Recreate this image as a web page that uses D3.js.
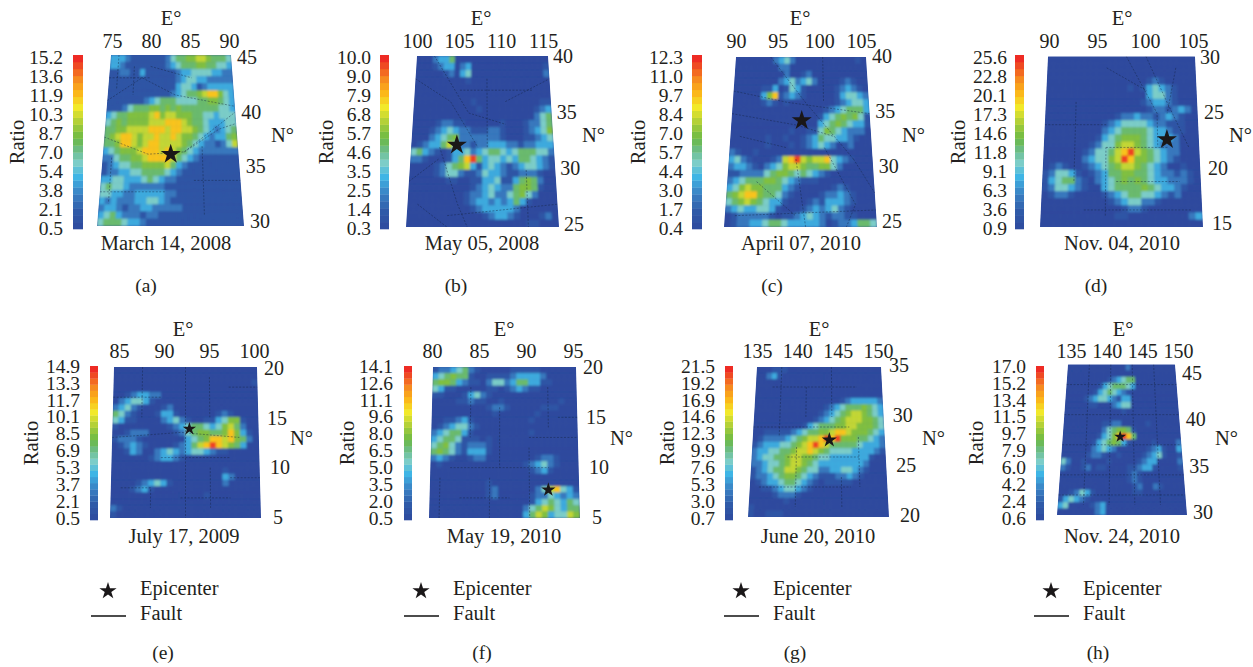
<!DOCTYPE html>
<html>
<head>
<meta charset="utf-8">
<script src="https://cdnjs.cloudflare.com/ajax/libs/d3/7.8.5/d3.min.js"></script>
<style>
body{margin:0;background:#fff}
svg{display:block}
text{font-family:"Liberation Serif",serif;fill:#231f20}
</style>
</head>
<body>
<svg id="chart" width="1253" height="667"></svg>
<script>
/*Values*/
let letters=['(a)','(b)','(c)','(d)','(e)','(f)','(g)','(h)']
let dates=['March 14, 2008','May 05, 2008','April 07, 2010','Nov. 04, 2010','July 17, 2009','May 19, 2010','June 20, 2010','Nov. 24, 2010']
let lonStart=[75,100,90,90,85,80,135,135]
let latStart=[30,25,25,15,5,5,20,30]
let epicenterLon=[82.5,104.8,97.6,101.9,92.9,91.9,143.7,142.3]
let epicenterLat=[36.3,32.2,34.4,22.7,13.85,7.8,27.7,37.8]

let ratioA=['0.5','2.1','3.8','5.4','7.0','8.7','10.3','11.9','13.6','15.2']
let ratioB=['0.3','1.4','2.5','3.5','4.6','5.7','6.8','7.9','9.0','10.0']
let ratioC=['0.4','1.7','3.0','4.4','5.7','7.0','8.4','9.7','11.0','12.3']
let ratioD=['0.9','3.6','6.3','9.1','11.8','14.6','17.3','20.1','22.8','25.6']
let ratioE=['0.5','2.1','3.7','5.3','6.9','8.5','10.1','11.7','13.3','14.9']
let ratioF=['0.5','2.0','3.5','5.0','6.5','8.0','9.6','11.1','12.6','14.1']
let ratioG=['0.7','3.0','5.3','7.6','9.9','12.3','14.6','16.9','19.2','21.5']
let ratioH=['0.6','2.4','4.2','6.0','7.9','9.7','11.5','13.4','15.2','17.0']

/*Estimated level (0-9) per cell, north at the top*/
let gridA=["333211111112455667765554","332111111112345556655443","112211311111123344443322","111111111111123443322222","111111111111134431233333","111111111111234556788643","111111123455544445566543","111245556656565555555443","345566667867766655443444","456566667778887655433344","556677778887887765432345","567887677877876654323356","556887678877776543221247","345666788878765432222222","224556678888754321111111","123445566667532111111111","122334455554321111111111","334433345432211111111111","454432222221111111111111","443322333332211111111111","323222334432111111111111","233212233222221111111111","345322212211111111111111","455543321111111111111111"]
let gridB=["000233500000000000000000","000123302300000000000001","000001203400000000000002","000000000100000000000000","000000000000000000000000","000000000000000000000000","000000000010000000000011","000000000001000000000123","000000000000000000000245","000012211000000100012245","000123432211122100012346","000234562222222100011234","012335742212233322122333","453210133423455434555442","221000135895344343554321","000012456731343212344321","000012442112433211222100","000000110011334113565200","000000000012343225665100","000000000122342245642000","000000000123323235310000","000000000012333332000000","000000000000123321000120","000000000000000000011000"]
let gridC=["000000023420000000000010","000000002200000000000000","000000000200120000000000","000000002342342000012100","000001130143100000123210","000003681232100000134432","000001210100000000123443","000000000000000012345553","000000000000000134565641","000000000000000345654331","000000000010011465432220","000000100100123544332100","000000100010123432012000","210010000000000000000000","342100012789767784321000","233210234677655664200000","112222456654543210000000","234555665432111000000000","346766555321000001210000","567886554210000122321000","456765433100012133321000","234334431000123234210000","012222210112343212211000","012233455433333201223554"]
let gridD=["000000000000000000000000","000000000000000000000000","000000000000000000000000","000000000000000012100000","000000000000010134321000","000000000000000034421000","000000000000000123321000","000000000000000012212320","000000000001223221232100","000000000123444432211100","000000000234555543321100","000000001345666543332000","000000012446776543222000","000000124457897654322000","000000234467986654321000","012100123456776543200100","124431012355665543221210","134552102345656543322210","124432100345555654332100","012210000123455443212000","000000000012344221000000","000000000000122100000000","000000000001100000000023","000000000000000000000000"]
let gridE=["000000000000000000000000","000000000000000000000000","000000000000000000000001","000000000000000000000000","001233220000000000000000","023443100000000000000000","234210001200000000000000","542100013310000001210000","431100002342100113466100","100000000123455434675200","001222000012456655686310","122210000000345688786520","012321000012357898765300","001320023432344321100000","000000123321000000000000","000000000000000000000000","000000000000000000100000","000000000000000000320000","000012343100000000200000","000123100000000000000000","000000000000000100000000","000000000000000000000000","210000000000000000000000","100000000000000000000000"]
let gridF=["122345210000011111000000","345655100111123333200000","566532110244235533110000","431100000110123211000000","110001342100000000000000","000011211001000000000100","000000000122100000111000","000000000010000001000000","001123100000000010000000","012344210000000000000000","234553100000000010000000","345541110100000000000000","456421222100000000000000","565421333100000000000000","232100122000000001221000","010000000000000123421000","000000000000000012310000","000000000000000000000000","000000000100000000000000","000000000120000002478431","000000000120000012243232","000000000000000013454354","000000000000000245764355","000000000000000357634476"]
let gridG=["000111000000000000000000","002310000000000000000000","000000000000000000000000","000000000000000000000000","000000000000000000000000","000000000000000012333332","000000000000012345556543","000000000000123456776543","000000000001234567776654","000000000134555667766654","001111123455667887666543","012222345677898966655432","123334456789875555543332","233445567787654444333321","234455677665443333333100","223445677654333333332000","123455776544223344321000","122345665432111223210000","012334554321011111000000","001123443210000000000000","000012221000000000000000","000000100000000000000000","100000000000000000000000","100111000000000000000000"]
let gridH=["000000000000020000000000","000000000000000000000000","000000000123455000000000","000000013455543000000000","000000134543210000000000","000012344321330000000000","000001100023440000000000","000000000000100000000000","000000000000000000000000","000000001122000001000000","000000002456651000000000","000000013468985000000000","000000134565310000100002","000000234320000001231003","000001221001000012341001","420010000100000123300002","210012011000011233100001","000000000000012100000000","000000000000012100000000","000000000000001200210000","001243100000001100000000","134321000000000000000000","340000123000000000000000","000000023000000000000000"]

/*Fault traces, lon/lat*/
let faultA=[[[75,41],[79,43],[83,41.5],[90,40.5]],[[75,37.8],[80,36.3],[84,36.5],[90,40]],[[84,36.5],[88,38.5],[90,39]],[[76,45],[76,42]],[[78,44],[78,41.5]],[[75,43],[80,43]],[[76,36],[76,32]],[[75,33],[82,33]],[[85,34],[90,34]],[[86,37],[86,31]],[[80,44],[85,43]]]
let faultB=[[[100,38],[104,36],[107,32]],[[102,40],[106,35],[110,34]],[[110,36],[115,38]],[[103,32],[105,27],[106,25]],[[100,29],[103,31]],[[108,38],[108,32]],[[105,37],[113,37]],[[112,30],[112,25]],[[104,26],[115,27]],[[101,27],[104,25]]]
let faultC=[[[90,37],[96,36],[105,35]],[[90,35],[97,34],[101,33]],[[94,40],[98,36],[103,31]],[[97,31],[98,25]],[[100,32],[103,27],[102,25]],[[103,31],[105,28]],[[91,33],[96,32]],[[93,29],[97,26]],[[100,40],[100,36]],[[91,26],[105,26.5]]]
let faultD=[[[98,30],[101,25],[101,22]],[[100,30],[102,26],[104,22]],[[96,29],[100,27]],[[93,26],[93,19]],[[90,24],[96,24]],[[96,22],[102,22]],[[97,19],[103,19]],[[94,16.5],[104,16.5]],[[96,16],[96,22]],[[103,29],[102,25]]]
let faultE=[[[85,17],[90,17]],[[88,20],[88,15]],[[92.5,20],[92.5,5]],[[90,11],[97,11]],[[95,19],[95,15]],[[97,18],[100,18]],[[86,8],[89,8],[89,6]],[[92,7],[97,7]],[[95,10],[95,6]],[[97,9],[100,9]],[[85,13],[92,13.5],[98,13]]]
let faultF=[[[82,10],[92,10]],[[84,18],[84,13]],[[87,16],[87,10]],[[90,13],[95,13]],[[93,15],[95,15]],[[83,7],[88,7]],[[86,9],[86,5]],[[90,12],[90,5]],[[92,18],[92,14]],[[81,9],[81,5]]]
let faultG=[[[137,33],[147,33]],[[138,35],[138,28]],[[141,33],[141,30]],[[144,35],[144,30]],[[135,29],[146,29]],[[139,26],[147,26]],[[136,23],[146,23]],[[147,28],[147,23]],[[140,27],[140,21]],[[145,24],[145,21]]]
let faultH=[[[135,43],[150,43]],[[135,40],[150,40]],[[135,37],[150,37]],[[135,34],[150,34]],[[135,32],[150,32]],[[138,45],[138,31]],[[141,45],[141,31]],[[144,45],[144,31]],[[147,45],[147,31]]]

/*Colour stops along the ratio bar and the share of it each level stands for*/
let barBands=25
let levelShare=[0,0.07,0.18,0.28,0.38,0.48,0.55,0.64,0.76,0.95]
let stopShare=[0,0.1,0.2,0.3,0.38,0.45,0.52,0.6,0.7,0.78,0.86,0.94,1]
let stopColor=['#2e4a9e','#2f5aa8','#3a7fc2','#3fb5e5','#7ccdc8','#6cbd8b','#6ab945','#a4cb3a','#f2e92a','#fbb81a','#f68b1f','#ef4a23','#ed1c24']

/*Layout, in page pixels*/
let row1={barTop:55,barBottom:229,tickTop:57.5,tickBottom:228,lonY:42,eY:25,dateY:250,letterY:292,nY:142,ratioY:142}
let row2={barTop:366,barBottom:520,tickTop:366,tickBottom:518,lonY:352,eY:336,dateY:543,letterY:659,nY:445,ratioY:443}
let layout=[
 {row:row1,tl:111,tr:231,bl:97,br:244,top:55,bottom:226,bar:73,barW:10,tick:63,ratioX:18,eX:171,lon:[112,229],latX:[250,237],latY:[221,57],nX:271,dateX:166,letterX:146,star:124},
 {row:row1,tl:417,tr:548,bl:406,br:559,top:56,bottom:227,bar:380,barW:9,tick:371,ratioX:327,eX:481,lon:[417,543],latX:[564,553],latY:[224,56],nX:582,dateX:482,letterX:456,star:124},
 {row:row1,tl:736,tr:866,bl:724,br:877,top:57,bottom:227,bar:692,barW:10,tick:683,ratioX:639,eX:800,lon:[736,861],latX:[882,872],latY:[221,56],nX:902,dateX:801,letterX:772,star:124},
 {row:row1,tl:1048,tr:1195,bl:1040,br:1203,top:56.5,bottom:227,bar:1015,barW:9,tick:1007,ratioX:959,eX:1122,lon:[1049,1193],latX:[1212,1200],latY:[223,57],nX:1229,dateX:1122,letterX:1096,star:124},
 {row:row2,tl:114,tr:257,bl:110,br:261,top:367,bottom:518,bar:90,barW:8,tick:80,ratioX:32,eX:183,lon:[119,254],latX:[273,264],latY:[517,368],nX:290,dateX:184,letterX:163,star:55,legend:[108,91,126,140]},
 {row:row2,tl:433,tr:576,bl:429,br:580,top:367,bottom:518,bar:404,barW:8,tick:393,ratioX:348,eX:504,lon:[432,573],latX:[592,583],latY:[517,367],nX:610,dateX:504,letterX:482,star:63,legend:[421,404,439,453]},
 {row:row2,tl:757,tr:881,bl:748,br:889,top:367,bottom:517,bar:725,barW:8,tick:715,ratioX:668,eX:819,lon:[757,878],latX:[900,889],latY:[515,365],nX:922,dateX:818,letterX:795,star:72,legend:[741,724,759,773]},
 {row:row2,tl:1068,tr:1175,bl:1057,br:1187,top:364.5,bottom:515,bar:1036,barW:8,tick:1026,ratioX:977,eX:1123,lon:[1071,1178],latX:[1193,1182],latY:[512,373],nX:1215,dateX:1122,letterX:1098,star:45,legend:[1051,1034,1069,1083]}
]

let ratios=[ratioA,ratioB,ratioC,ratioD,ratioE,ratioF,ratioG,ratioH]
let grids=[gridA,gridB,gridC,gridD,gridE,gridF,gridG,gridH]
let faults=[faultA,faultB,faultC,faultD,faultE,faultF,faultG,faultH]

let svg=d3.select('#chart')
let tickFont=19.5,labelFont=20.5
let share=d3.scaleLinear().domain(stopShare).range(stopColor).interpolate(d3.interpolateRgb)
let line=d3.line()
let defs=svg.append('defs')
defs.append('filter').attr('id','soft').attr('x','-5%').attr('y','-5%').attr('width','110%').attr('height','110%')
  .append('feGaussianBlur').attr('stdDeviation',1)

layout.forEach((p,i)=>{
  let g=svg.append('g').attr('class','panel')
  let row=p.row
  let ticks=ratios[i]
  let minR=+ticks[0],maxR=+ticks[ticks.length-1]
  let color=d3.scaleLinear().domain([minR,maxR]).range([0,1])

  //trapezoid map: lat goes to v, lon goes to u
  let lonScale=d3.scaleLinear().domain([lonStart[i],lonStart[i]+15]).range([0,1])
  let latScale=d3.scaleLinear().domain([latStart[i]+15,latStart[i]]).range([0,1])
  let place=(lon,lat)=>{
    let u=lonScale(lon),v=latScale(lat)
    let left=p.tl+(p.bl-p.tl)*v,right=p.tr+(p.br-p.tr)*v
    return [left+(right-left)*u,p.top+(p.bottom-p.top)*v]
  }
  let lons=d3.range(0,16,5).map(d=>d+lonStart[i])
  let lats=d3.range(0,16,5).map(d=>d+latStart[i])
  let west=lonStart[i],north=latStart[i]+15,east=west+15,south=latStart[i]
  let outline=[place(west,north),place(east,north),place(east,south),place(west,south)]

  defs.append('clipPath').attr('id','clip'+i).append('path').attr('d',line(outline)+'Z')
  let map=g.append('g').attr('clip-path','url(#clip'+i+')')
  map.append('path').attr('d',line(outline)+'Z').attr('fill',stopColor[0])

  //cells
  let nRows=grids[i].length
  let cells=[]
  grids[i].forEach((r,ri)=>r.split('').forEach((c,ci)=>{
    cells.push({row:ri,col:ci,cols:r.length,ratio:minR+levelShare[+c]*(maxR-minR)})
  }))
  let latBand=d3.scaleLinear().domain([0,nRows]).range([north,south])
  map.append('g').attr('filter','url(#soft)').selectAll('path')
    .data(cells)
    .enter().append('path')
    .attr('d',d=>{
      let lonBand=d3.scaleLinear().domain([0,d.cols]).range([west,east])
      return line([
        place(lonBand(d.col),latBand(d.row)),
        place(lonBand(d.col+1),latBand(d.row)),
        place(lonBand(d.col+1),latBand(d.row+1)),
        place(lonBand(d.col),latBand(d.row+1))
      ])+'Z'
    })
    .attr('fill',d=>share(color(d.ratio)))
    .attr('stroke',d=>share(color(d.ratio)))
    .attr('stroke-width',0.6)

  //faults
  map.append('g').selectAll('path')
    .data(faults[i])
    .enter().append('path')
    .attr('d',d=>line(d.map(c=>place(c[0],c[1]))))
    .attr('fill','none')
    .attr('stroke','#14213f')
    .attr('stroke-opacity',0.6)
    .attr('stroke-width',0.7)
    .attr('stroke-dasharray','2 1.5')

  //epicenter
  let epi=place(epicenterLon[i],epicenterLat[i])
  g.append('path')
    .attr('d',d3.symbol(d3.symbolStar,p.star))
    .attr('transform','translate('+epi[0]+','+epi[1]+')')
    .attr('fill','#1a1718')

  //ratio bar
  let barY=d3.scaleLinear().domain([0,barBands]).range([row.barBottom,row.barTop])
  g.append('g').selectAll('rect')
    .data(d3.range(barBands))
    .enter().append('rect')
    .attr('x',p.bar)
    .attr('width',p.barW)
    .attr('y',d=>barY(d+1))
    .attr('height',d=>barY(d)-barY(d+1)+0.3)
    .attr('fill',d=>share((d+0.5)/barBands))

  let tickY=d3.scalePoint().domain(ticks).range([row.tickBottom,row.tickTop])
  let barAxis=g.append('g').attr('transform','translate('+(p.tick)+',0)')
    .call(d3.axisLeft(tickY).tickSize(0).tickPadding(0))
  barAxis.select('.domain').remove()
  barAxis.selectAll('text').attr('font-family','"Liberation Serif",serif').attr('font-size',tickFont)

  g.append('text')
    .attr('transform','translate('+(p.ratioX+6)+','+row.ratioY+') rotate(-90)')
    .attr('text-anchor','middle').attr('font-size',labelFont).text('Ratio')

  //lon labels
  let lonX=d3.scaleLinear().domain([lons[0],lons[3]]).range(p.lon)
  let lonAxis=g.append('g').attr('transform','translate(0,'+(row.lonY+6)+')')
    .call(d3.axisTop(lonX).tickValues(lons).tickSize(0).tickPadding(0).tickFormat(d3.format('d')))
  lonAxis.select('.domain').remove()
  lonAxis.selectAll('text').attr('font-family','"Liberation Serif",serif').attr('font-size',tickFont+0.5)
  g.append('text').attr('x',p.eX).attr('y',row.eY).attr('text-anchor','middle').attr('font-size',labelFont).text('E°')

  //lat labels, they drift right going south
  let latY=d3.scaleLinear().domain([lats[0],lats[3]]).range(p.latY)
  let latX=d3.scaleLinear().domain([lats[0],lats[3]]).range(p.latX)
  let latAxis=g.append('g').call(d3.axisRight(latY).tickValues(lats).tickSize(0).tickFormat(d3.format('d')))
  latAxis.select('.domain').remove()
  latAxis.selectAll('text').attr('x',d=>latX(d)).attr('font-family','"Liberation Serif",serif').attr('font-size',tickFont+0.5)
  g.append('text').attr('x',p.nX).attr('y',row.nY).attr('font-size',labelFont).text('N°')

  g.append('text').attr('x',p.dateX).attr('y',row.dateY).attr('text-anchor','middle').attr('font-size',labelFont).text(dates[i])
  g.append('text').attr('x',p.letterX).attr('y',row.letterY).attr('text-anchor','middle').attr('font-size',labelFont-1).text(letters[i])

  //legend under the second row
  if(p.legend){
    let [sx,x0,x1,tx]=p.legend
    g.append('path').attr('d',d3.symbol(d3.symbolStar,92)).attr('transform','translate('+sx+',591)').attr('fill','#1a1718')
    g.append('line').attr('x1',x0).attr('x2',x1).attr('y1',616).attr('y2',616).attr('stroke','#111').attr('stroke-width',1.6)
    g.append('text').attr('x',tx).attr('y',595).attr('font-size',labelFont).text('Epicenter')
    g.append('text').attr('x',tx).attr('y',620).attr('font-size',labelFont).text('Fault')
  }
})
</script>
</body>
</html>
